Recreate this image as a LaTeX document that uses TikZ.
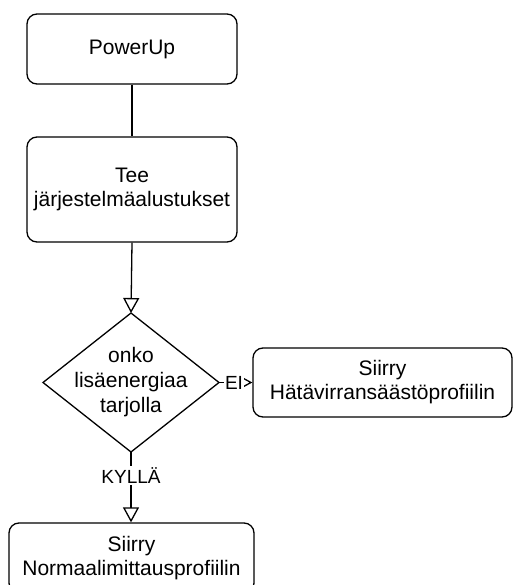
\documentclass[tikz,border=0pt]{standalone}
\usepackage{fontspec}
\setmainfont{Liberation Sans}
\usetikzlibrary{arrows.meta}
\begin{document}
\begin{tikzpicture}[x=1pt,y=-1pt,
  box/.style={draw,line width=1.3pt,rounded corners=10pt,align=center,inner sep=0pt,
    font=\fontsize{21}{24}\selectfont},
  conn/.style={line width=1.3pt},
  arr/.style={conn,-{Triangle[open,length=15pt,width=16pt,line width=1.3pt]}},
  elabel/.style={fill=white,inner sep=1.5pt,font=\fontsize{19}{22}\selectfont}]
\useasboundingbox (0,0) rectangle (513,585);
\node[box,minimum width=210pt,minimum height=70pt] (p) at (132,49) {PowerUp};
\node[box,minimum width=210pt,minimum height=105pt] (t) at (132,189.5) {Tee\\järjestelmäalustukset};
\coordinate (dT) at (131,313);
\coordinate (dB) at (131,452);
\coordinate (dL) at (43,382.5);
\coordinate (dR) at (219,382.5);
\draw[conn] (dT) -- (dR) -- (dB) -- (dL) -- cycle;
\node[align=center,inner sep=0pt,font=\fontsize{21}{25}\selectfont] (q) at (131,382.5) {onko\\lisäenergiaa\\tarjolla};
\node[box,minimum width=259pt,minimum height=69pt] (h) at (382.5,382.5) {Siirry\\Hätävirransäästöprofiilin};
\node[box,minimum width=245pt,minimum height=70pt] (n) at (131.5,558) {Siirry\\Normaalimittausprofiilin};
\draw[conn] (p.south) -- (t.south |- p.south) -- (t.north);
\draw[arr] (t.south) -- (dT);
\draw[arr] (dR) -- node[elabel,pos=0.45] {EI} (h.west);
\draw[arr] (dB) -- node[elabel,pos=0.33] {KYLLÄ} (dB |- n.north);
\end{tikzpicture}
\end{document}
